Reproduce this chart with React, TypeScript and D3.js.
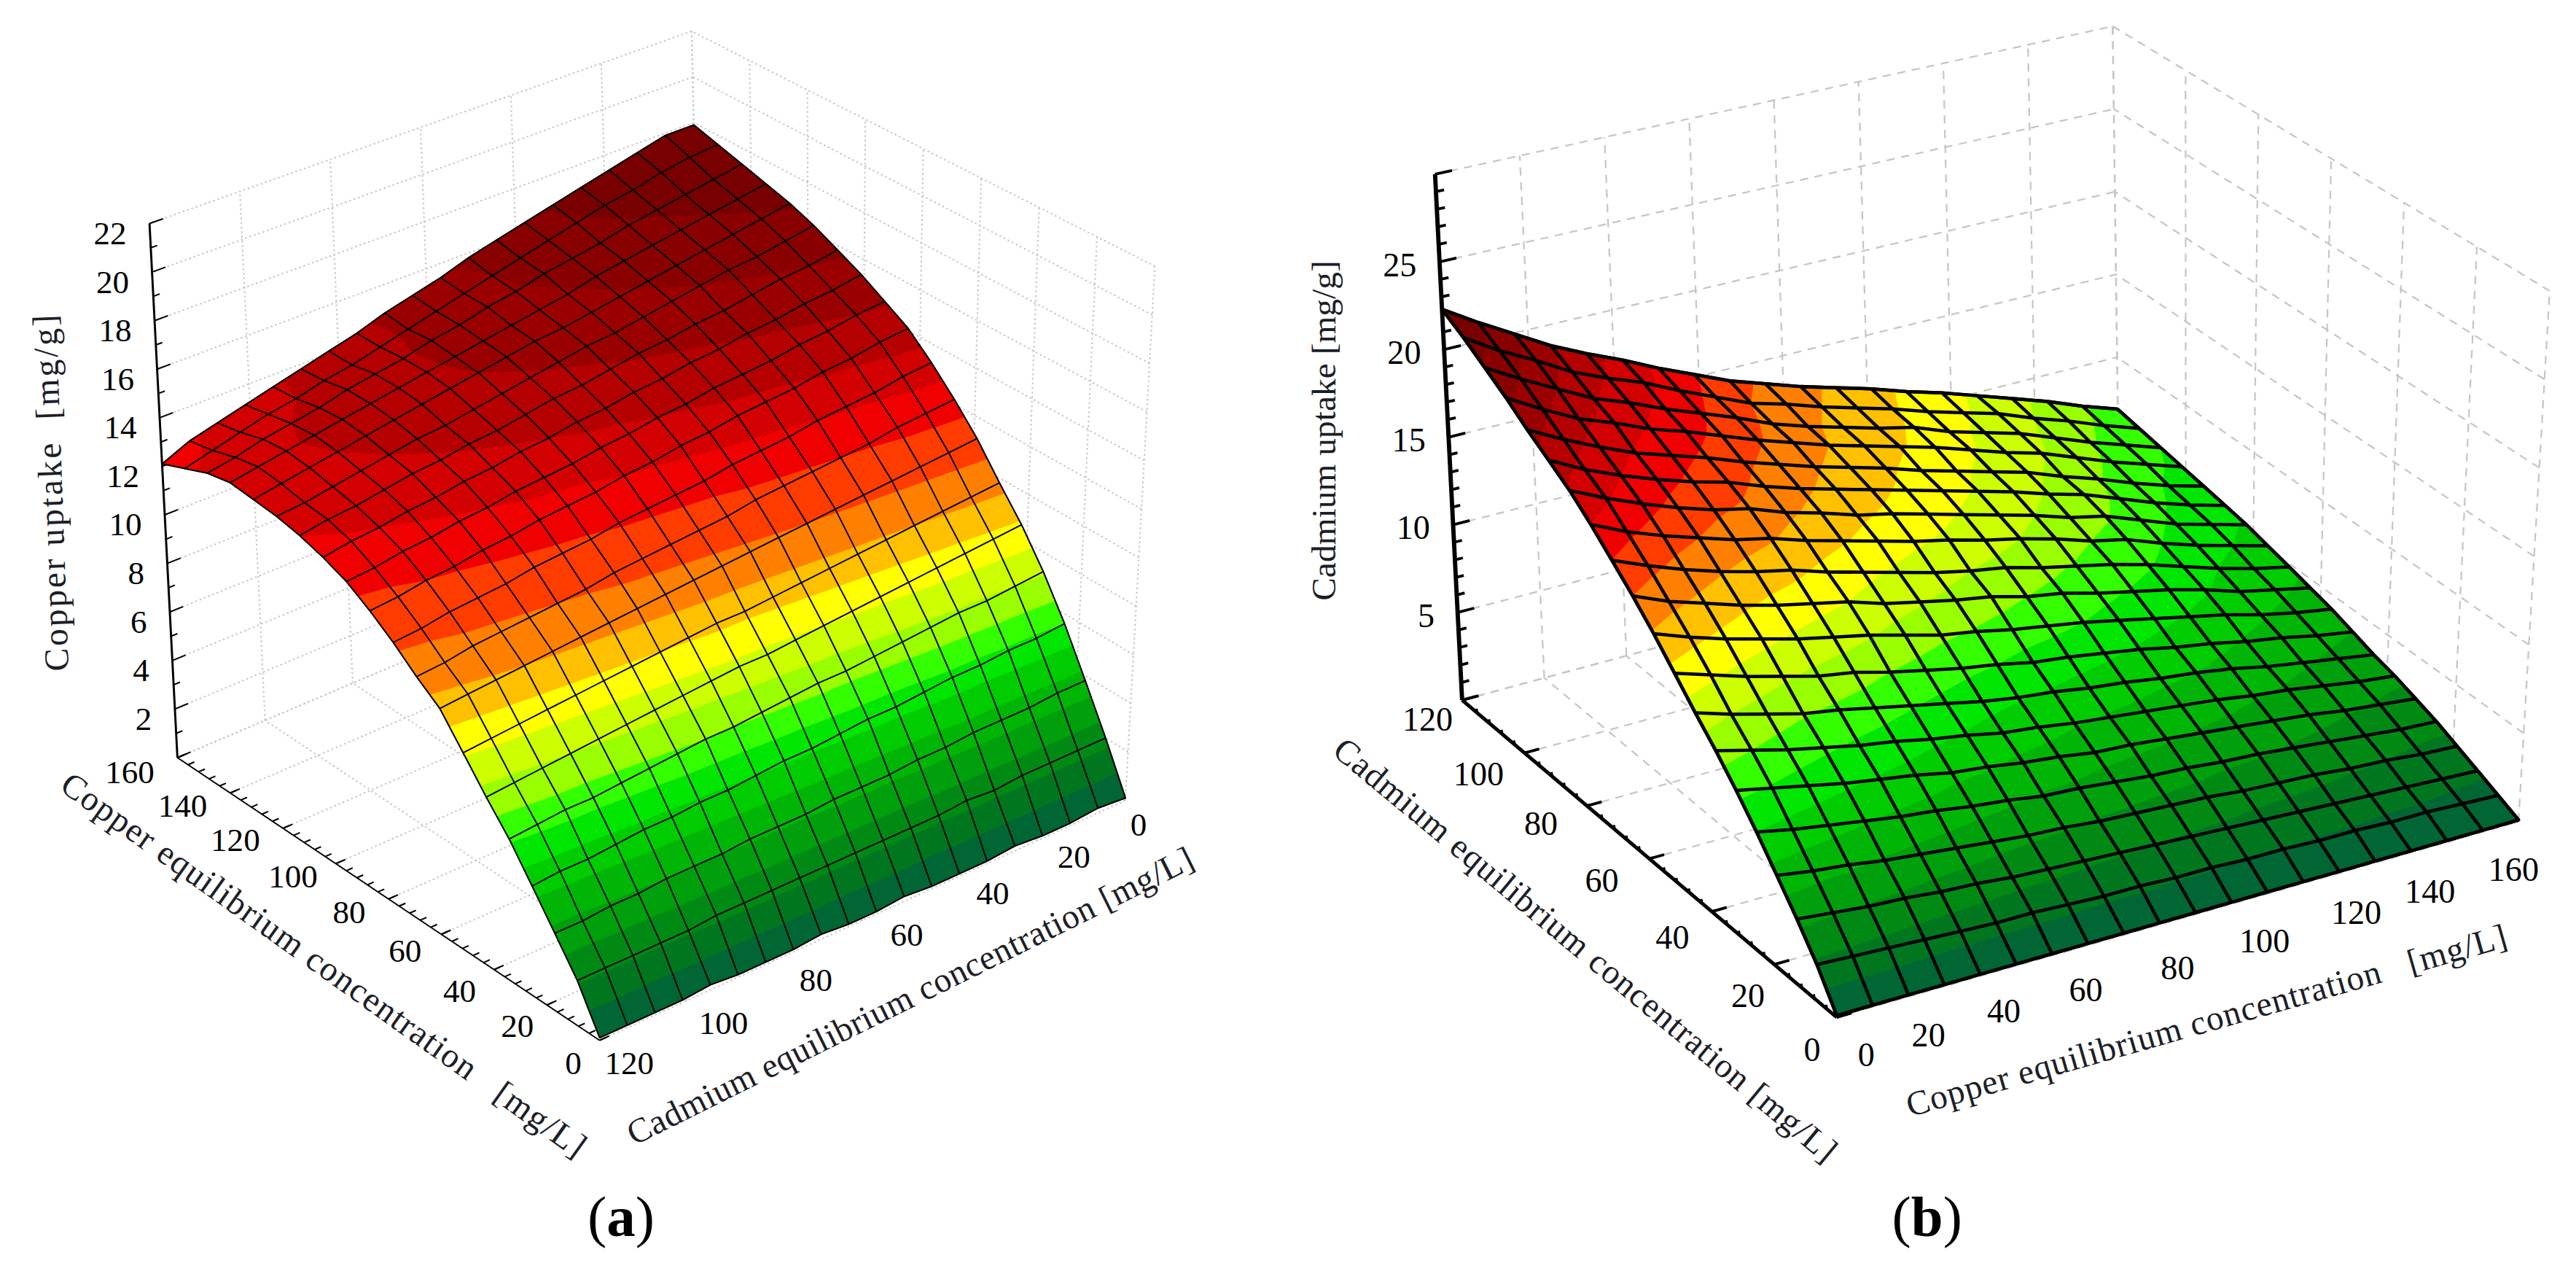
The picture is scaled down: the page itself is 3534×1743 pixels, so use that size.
import React from 'react';
import * as d3 from 'd3';

// everything is laid out in the 1568x773 frame and scaled up to the page
const K = 3534 / 1568;

const copperTicks = [0, 20, 40, 60, 80, 100, 120, 140, 160];
const cadmiumTicks = [0, 20, 40, 60, 80, 100, 120];
const uptakeTicksA = [2, 4, 6, 8, 10, 12, 14, 16, 18, 20, 22];
const uptakeTicksB = [5, 10, 15, 20, 25];

const bandColors = [
  '#006633', '#00771f', '#008a14', '#009f0c', '#00b506', '#00cc00', '#00e600',
  '#33ff00', '#99ff00', '#ccff00', '#ffff00', '#ffc000', '#ff8000', '#ff3c00',
  '#f00000', '#d20000', '#b40000', '#9a0000', '#880000', '#780000',
];
const bandLevelsA = [0.9, 1.7, 2.5, 3.3, 4.1, 4.9, 5.6, 6.3, 7.1, 7.9, 8.7, 9.5, 10.5, 11.7, 12.7, 13.6, 14.6, 15.6, 16.6];
const bandLevelsB = [1.1, 2.2, 3.3, 4.4, 5.5, 6.6, 7.7, 8.8, 9.9, 11, 12.1, 13.2, 14.3, 15.4, 16.5, 17.6, 18.7, 19.8, 20.9];

// panel a: rows go copper 0 -> 160, columns cadmium 0 -> 120
const copperUptake = [
  [0.1, 0.2, 0.1, 0.1, 0.2, 0.1, 0.1, 0.1, 0.2, 0.1, 0.1, 0.2, 0.1, 0.1, 0.1, 0.2, 0.1, 0.1, 0.1, 0.1],
  [2.0, 2.0, 2.0, 2.0, 1.9, 2.0, 1.9, 1.9, 1.9, 1.9, 1.9, 1.9, 1.9, 1.9, 1.9, 1.8, 1.8, 1.8, 1.8, 1.8],
  [3.8, 3.8, 3.7, 3.7, 3.7, 3.6, 3.6, 3.5, 3.5, 3.5, 3.4, 3.4, 3.4, 3.3, 3.3, 3.3, 3.2, 3.2, 3.1, 3.1],
  [5.6, 5.5, 5.5, 5.4, 5.4, 5.3, 5.2, 5.2, 5.1, 5.0, 5.0, 4.9, 4.8, 4.8, 4.7, 4.7, 4.6, 4.5, 4.5, 4.4],
  [7.2, 7.1, 7.0, 7.0, 6.9, 6.8, 6.7, 6.6, 6.6, 6.5, 6.4, 6.3, 6.3, 6.2, 6.1, 6.0, 5.9, 5.9, 5.8, 5.7],
  [8.6, 8.5, 8.4, 8.3, 8.2, 8.1, 8.0, 7.9, 7.8, 7.7, 7.7, 7.6, 7.5, 7.4, 7.3, 7.2, 7.1, 7.0, 6.9, 6.8],
  [9.8, 9.7, 9.6, 9.5, 9.4, 9.3, 9.2, 9.1, 9.0, 8.9, 8.9, 8.8, 8.7, 8.6, 8.5, 8.4, 8.3, 8.2, 8.1, 8.0],
  [11.1, 11.0, 10.9, 10.8, 10.7, 10.6, 10.5, 10.4, 10.3, 10.2, 10.1, 10.0, 9.9, 9.8, 9.7, 9.6, 9.5, 9.4, 9.3, 9.2],
  [12.2, 12.1, 12.0, 11.8, 11.7, 11.6, 11.5, 11.4, 11.2, 11.1, 11.0, 10.9, 10.8, 10.6, 10.5, 10.4, 10.3, 10.2, 10.0, 9.9],
  [13.2, 13.1, 12.9, 12.8, 12.7, 12.5, 12.4, 12.3, 12.1, 12.0, 11.9, 11.8, 11.6, 11.5, 11.4, 11.2, 11.1, 11.0, 10.8, 10.7],
  [14.1, 14.0, 13.8, 13.7, 13.5, 13.4, 13.3, 13.1, 13.0, 12.8, 12.7, 12.5, 12.4, 12.3, 12.1, 12.0, 11.8, 11.7, 11.5, 11.4],
  [14.7, 14.6, 14.4, 14.3, 14.1, 14.0, 13.9, 13.7, 13.6, 13.4, 13.3, 13.1, 13.0, 12.9, 12.7, 12.6, 12.4, 12.3, 12.1, 12.0],
  [15.3, 15.1, 15.0, 14.8, 14.7, 14.5, 14.4, 14.2, 14.1, 13.9, 13.8, 13.6, 13.5, 13.3, 13.2, 13.0, 12.9, 12.7, 12.6, 12.4],
  [15.8, 15.6, 15.5, 15.3, 15.1, 15.0, 14.8, 14.7, 14.5, 14.3, 14.2, 14.0, 13.8, 13.7, 13.5, 13.4, 13.2, 13.0, 12.9, 12.7],
  [16.3, 16.1, 15.9, 15.8, 15.6, 15.4, 15.2, 15.0, 14.9, 14.7, 14.5, 14.3, 14.1, 13.9, 13.8, 13.6, 13.4, 13.2, 13.0, 12.9],
  [16.7, 16.5, 16.3, 16.1, 15.9, 15.7, 15.5, 15.3, 15.1, 15.0, 14.8, 14.6, 14.4, 14.2, 14.0, 13.8, 13.6, 13.4, 13.2, 13.0],
  [17.0, 16.8, 16.6, 16.4, 16.2, 16.0, 15.8, 15.5, 15.3, 15.1, 14.9, 14.7, 14.5, 14.3, 14.1, 13.9, 13.7, 13.5, 13.3, 13.1],
  [17.3, 17.1, 16.9, 16.7, 16.5, 16.2, 16.0, 15.8, 15.5, 15.3, 15.0, 14.8, 14.5, 14.3, 14.1, 13.8, 13.6, 13.4, 13.1, 12.9],
  [17.6, 17.5, 17.3, 17.0, 16.8, 16.5, 16.2, 15.9, 15.6, 15.3, 15.0, 14.7, 14.4, 14.1, 13.9, 13.6, 13.4, 13.1, 12.8, 12.5],
  [17.9, 17.9, 17.6, 17.3, 17.0, 16.7, 16.4, 16.1, 15.8, 15.4, 15.1, 14.8, 14.4, 14.1, 13.8, 13.5, 13.2, 12.9, 12.6, 12.1],
];

// panel b: rows go copper 0 -> 160, columns cadmium 0 -> 120
const cadmiumUptake = [
  [0.1, 2.0, 3.6, 5.1, 6.6, 8.0, 9.3, 10.5, 11.8, 13.1, 14.3, 15.4, 16.5, 17.5, 18.3, 19.1, 20.0, 20.8, 21.6, 22.3],
  [0.1, 1.9, 3.4, 4.8, 6.2, 7.6, 8.8, 9.9, 11.2, 12.4, 13.5, 14.6, 15.6, 16.6, 17.3, 18.1, 18.9, 19.7, 20.4, 21.1],
  [0.1, 1.8, 3.2, 4.6, 5.9, 7.2, 8.3, 9.4, 10.6, 11.8, 12.9, 13.9, 14.9, 15.8, 16.5, 17.2, 17.9, 18.7, 19.4, 20.0],
  [0.1, 1.7, 3.1, 4.3, 5.6, 6.8, 7.9, 8.9, 10.1, 11.3, 12.3, 13.3, 14.3, 15.1, 15.8, 16.4, 17.2, 17.7, 18.3, 18.9],
  [0.1, 1.6, 2.9, 4.1, 5.3, 6.5, 7.5, 8.6, 9.6, 10.8, 11.8, 12.8, 13.7, 14.5, 15.2, 15.8, 16.4, 17.0, 17.5, 18.0],
  [0.1, 1.5, 2.8, 3.9, 5.1, 6.2, 7.2, 8.2, 9.3, 10.4, 11.4, 12.4, 13.3, 14.1, 14.7, 15.2, 15.8, 16.2, 16.8, 17.2],
  [0.1, 1.5, 2.6, 3.7, 4.8, 5.8, 6.8, 7.8, 8.8, 10.0, 11.0, 11.8, 12.7, 13.4, 14.0, 14.5, 15.1, 15.5, 15.9, 16.3],
  [0.1, 1.4, 2.5, 3.5, 4.6, 5.6, 6.5, 7.4, 8.4, 9.5, 10.4, 11.3, 12.2, 12.9, 13.4, 13.9, 14.4, 14.8, 15.1, 15.5],
  [0.1, 1.3, 2.4, 3.4, 4.3, 5.3, 6.1, 7.0, 8.0, 9.0, 10.0, 10.8, 11.7, 12.3, 12.9, 13.3, 13.8, 14.0, 14.3, 14.7],
  [0.1, 1.3, 2.3, 3.2, 4.2, 5.1, 5.9, 6.7, 7.7, 8.7, 9.6, 10.3, 11.2, 11.9, 12.4, 12.8, 13.2, 13.4, 13.8, 14.1],
  [0.1, 1.2, 2.2, 3.1, 4.0, 4.8, 5.6, 6.5, 7.3, 8.3, 9.3, 9.9, 10.8, 11.4, 11.9, 12.3, 12.7, 12.9, 13.2, 13.5],
  [0.1, 1.2, 2.1, 3.0, 3.8, 4.7, 5.4, 6.2, 7.1, 8.0, 8.8, 9.6, 10.3, 10.9, 11.4, 11.7, 12.2, 12.4, 12.7, 13.0],
  [0.1, 1.1, 2.0, 2.9, 3.7, 4.5, 5.2, 6.0, 6.8, 7.7, 8.5, 9.1, 9.9, 10.4, 10.9, 11.2, 11.7, 12.0, 12.2, 12.5],
  [0.1, 1.1, 1.9, 2.7, 3.5, 4.3, 5.0, 5.7, 6.5, 7.3, 8.0, 8.7, 9.4, 9.9, 10.4, 10.7, 11.1, 11.3, 11.6, 11.9],
  [0.1, 1.0, 1.8, 2.6, 3.4, 4.1, 4.8, 5.5, 6.1, 6.9, 7.6, 8.3, 8.8, 9.3, 9.8, 10.2, 10.5, 10.8, 11.1, 11.4],
  [0.1, 1.0, 1.7, 2.5, 3.2, 3.9, 4.5, 5.2, 5.8, 6.5, 7.2, 7.8, 8.4, 8.9, 9.3, 9.5, 10.0, 10.3, 10.6, 10.8],
  [0.1, 0.9, 1.6, 2.3, 3.0, 3.7, 4.3, 4.8, 5.4, 6.1, 6.7, 7.2, 7.7, 8.2, 8.6, 8.9, 9.3, 9.6, 9.9, 10.2],
  [0.1, 0.9, 1.5, 2.2, 2.8, 3.4, 4.0, 4.5, 5.1, 5.6, 6.1, 6.6, 7.1, 7.5, 7.9, 8.2, 8.6, 8.9, 9.3, 9.6],
  [0.1, 0.8, 1.4, 2.0, 2.6, 3.2, 3.7, 4.2, 4.7, 5.2, 5.7, 6.1, 6.6, 7.0, 7.3, 7.6, 8.0, 8.3, 8.6, 8.9],
  [0.1, 0.7, 1.3, 1.9, 2.5, 3.0, 3.5, 3.9, 4.4, 4.9, 5.3, 5.7, 6.1, 6.5, 6.8, 7.1, 7.4, 7.7, 8.0, 8.3],
];

const FONT = '"Liberation Serif", serif';

// corners are [copper frac, cadmium frac]: c00, c10, c01, c11
const panelA = {
  values: copperUptake,
  levels: bandLevelsA,
  zMax: 22,
  zLines: [0, ...uptakeTicksA],
  zLabels: uptakeTicksA,
  zMinorStep: 1,
  floor: [[685, 487], [428, 325], [365, 633], [108, 461]],
  top: [[703, 162], [421, 19], [365, 298], [91, 136]],
  copperWallCd: 0,
  axisAlong: 'copper',
  meshWidth: 0.85,
  outlineWidth: 0.7,
  axisWidth: 1.3,
  floorAxisWidth: 0.8,
  tickWidth: 0.9,
  floorMinorLen: 0.012,
  floorMajorLen: 0.018,
  gridDash: '1.1 1.7',
  gridWidth: 0.9,
  copperNudge: [[-16, 14], [-18, 13], [-21, 13], [-22, 10], [-24, 8], [-26, 8], [-29, 7], [-29, 8], [-29, 9]],
  cadmiumNudge: [[8, 15], [22, 10], [26, 8], [27, 9], [25, 12], [22, 14], [18, 14]],
  zLabelDx: -14,
  zLabelDy: 6,
  labelSize: 20,
  zTitle: { text: 'Copper uptake  [mg/g]', x: 31, y: 300, rot: -92, len: 217 },
  copperTitle: { text: 'Copper equilibrium concentration   [mg/L]', x: 197, y: 587, rot: 35.5, len: 387 },
  cadmiumTitle: { text: 'Cadmium equilibrium concentration [mg/L]', x: 554, y: 606, rot: -26.4, len: 382 },
  caption: { letter: 'a', x: 378 },
};

const panelB = {
  values: cadmiumUptake,
  levels: bandLevelsB,
  zMax: 30,
  zLines: [0, ...uptakeTicksB, 30],
  zLabels: uptakeTicksB,
  zMinorStep: 1,
  floor: [[1118, 619], [1533, 500], [890, 426], [1290, 318]],
  // the surface sits a little lower at the hidden back corner than the wall grid suggests
  surfaceFloor: [[1118, 619], [1533, 500], [890, 426], [1290, 338]],
  top: [[1118, 289], [1552, 177], [873.5, 106], [1286, 16]],
  copperWallCd: 120,
  axisAlong: 'cadmium',
  meshWidth: 2,
  outlineWidth: 2,
  axisWidth: 2.6,
  floorAxisWidth: 2.2,
  tickWidth: 1.7,
  floorMinorLen: 0.005,
  floorMajorLen: 0.022,
  gridDash: '5 4',
  gridWidth: 1,
  copperNudge: [[18, 23], [4, 26], [-2, 26], [-4, 28], [0, 29.5], [1, 28], [5, 25.6], [-2, 27.7], [-3, 29]],
  cadmiumNudge: [[-15, 20], [-16, 19], [-24, 15.6], [-29, 13.5], [-28, 11], [-28, 13], [-21, 12]],
  zLabelDx: -14,
  zLabelDy: 2,
  labelSize: 20.5,
  zTitle: { text: 'Cadmium uptake [mg/g]', x: 806, y: 262, len: 207 },
  copperTitle: { text: 'Copper equilibrium concentration   [mg/L]', x: 1343, y: 621, rot: -15.9, len: 379 },
  cadmiumTitle: { text: 'Cadmium equilibrium concentration [mg/L]', x: 965, y: 578, rot: 39.7, len: 391 },
  caption: { letter: 'b', x: 1173 },
};

function Surface3D({ cfg }: { cfg: any }) {
  const { floor, top, values } = cfg;
  const surfaceFloor = cfg.surfaceFloor ?? floor;
  const nNodes = values.length;
  const copperScale = d3.scaleLinear([0, 160], [0, 1]);
  const cadmiumScale = d3.scaleLinear([0, 120], [0, 1]);
  const zScale = d3.scaleLinear([0, cfg.zMax], [0, 1]);
  const nodeScale = d3.scaleLinear([0, nNodes - 1], [0, 1]);
  const lerp = (a: number, b: number, t: number) => a + (b - a) * t;

  const projectWith = (base: number[][], u: number, v: number, w: number): [number, number] => {
    const at = (c: number[][], k: number) =>
      lerp(lerp(c[0][k], c[1][k], u), lerp(c[2][k], c[3][k], u), v);
    return [lerp(at(base, 0), at(top, 0), w), lerp(at(base, 1), at(top, 1), w)];
  };
  const project = (u: number, v: number, w: number) => projectWith(floor, u, v, w);
  const surfacePoint = (row: number, col: number) =>
    projectWith(surfaceFloor, nodeScale(row), nodeScale(col), zScale(values[row][col]));

  const zAt = (row: number, col: number) => {
    const r0 = Math.min(Math.floor(row), nNodes - 2);
    const c0 = Math.min(Math.floor(col), nNodes - 2);
    const tr = row - r0;
    const tc = col - c0;
    return lerp(
      lerp(values[r0][c0], values[r0][c0 + 1], tc),
      lerp(values[r0 + 1][c0], values[r0 + 1][c0 + 1], tc),
      tr,
    );
  };

  // d3.contours places value i at coordinate i + 0.5
  const clampNode = (x: number) => Math.max(0, Math.min(nNodes - 1, x - 0.5));
  const contourPath = d3.geoPath(
    d3.geoTransform({
      point(x: number, y: number) {
        const col = clampNode(x);
        const row = clampNode(y);
        const p = projectWith(surfaceFloor, nodeScale(row), nodeScale(col), zScale(zAt(row, col)));
        (this as any).stream.point(p[0], p[1]);
      },
    }),
  );
  const bands = d3.contours().size([nNodes, nNodes]).thresholds(cfg.levels)(values.flat());

  const line = d3.line();
  const nodeIdx = d3.range(nNodes);
  const rowLines = nodeIdx.map((r) => line(nodeIdx.map((c) => surfacePoint(r, c))));
  const colLines = nodeIdx.map((c) => line(nodeIdx.map((r) => surfacePoint(r, c))));
  const outline =
    line([
      ...nodeIdx.map((c) => surfacePoint(0, c)),
      ...nodeIdx.map((r) => surfacePoint(r, nNodes - 1)),
      ...nodeIdx.map((c) => surfacePoint(nNodes - 1, nNodes - 1 - c)),
      ...nodeIdx.map((r) => surfacePoint(nNodes - 1 - r, 0)),
    ]) + 'Z';

  // back walls and floor
  const wallCd = cadmiumScale(cfg.copperWallCd);
  const gridSegs: [number, number][][] = [];
  copperTicks.forEach((t) => {
    const u = copperScale(t);
    gridSegs.push([project(u, wallCd, 0), project(u, wallCd, 1)]);
    gridSegs.push([project(u, 0, 0), project(u, 1, 0)]);
  });
  cadmiumTicks.forEach((t) => {
    const v = cadmiumScale(t);
    gridSegs.push([project(1, v, 0), project(1, v, 1)]);
    gridSegs.push([project(0, v, 0), project(1, v, 0)]);
  });
  cfg.zLines.forEach((t: number) => {
    const w = zScale(t);
    gridSegs.push([project(1, 0, w), project(1, 1, w)]);
    gridSegs.push([project(0, wallCd, w), project(1, wallCd, w)]);
  });

  // left corner of the box, where the drawn axes meet
  const leftV = 1;
  const leftU = cfg.axisAlong === 'copper' ? 1 : 0;
  const wallDir =
    cfg.axisAlong === 'copper'
      ? (w: number, d: number) => project(1, 1 - d, w)
      : (w: number, d: number) => project(d, 1, w);
  const zMinor = d3.range(0, cfg.zMax + 0.01, cfg.zMinorStep);
  const floorAxis =
    cfg.axisAlong === 'copper'
      ? (t: number, d: number) => project(copperScale(t), 1 - d, 0)
      : (t: number, d: number) => project(d, cadmiumScale(t), 0);
  const floorMajor = cfg.axisAlong === 'copper' ? copperTicks : cadmiumTicks;
  const floorMax = cfg.axisAlong === 'copper' ? 160 : 120;
  const floorMinor = d3.range(0, floorMax + 0.01, 4);
  const floorEnds = [floorAxis(0, 0), floorAxis(floorMax, 0)];

  const { caption } = cfg;
  const title = (t: any, key: string) => (
    <text
      key={key}
      transform={`translate(${t.x},${t.y}) rotate(${t.rot ?? -90})`}
      textAnchor="middle"
      dy="0.33em"
      fontSize={21}
      textLength={t.len}
      fill="#1c2026"
      xmlSpace="preserve"
    >
      {t.text}
    </text>
  );

  return (
    <g fontFamily={FONT}>
      <g stroke="#c6c6c6" strokeWidth={cfg.gridWidth} strokeDasharray={cfg.gridDash} fill="none">
        {gridSegs.map((s, i) => (
          <path key={i} d={line(s) as string} />
        ))}
      </g>

      <g stroke="#000" fill="none">
        <path d={line([project(leftU, leftV, 0), project(leftU, leftV, 1)]) as string} strokeWidth={cfg.axisWidth} />
        <path d={line(floorEnds) as string} strokeWidth={cfg.floorAxisWidth} />
        {zMinor.map((t: number) => {
          const major = t % (cfg.zLabels[1] - cfg.zLabels[0]) === 0;
          const w = zScale(t);
          return (
            <path
              key={`z${t}`}
              d={line([wallDir(w, 0), wallDir(w, major ? 0.025 : 0.012)]) as string}
              strokeWidth={cfg.tickWidth}
            />
          );
        })}
        {floorMinor.map((t: number) => (
          <path
            key={`fm${t}`}
            d={line([floorAxis(t, 0), floorAxis(t, cfg.floorMinorLen)]) as string}
            strokeWidth={cfg.tickWidth}
          />
        ))}
        {floorMajor.map((t: number) => (
          <path
            key={`fM${t}`}
            d={line([floorAxis(t, 0), floorAxis(t, cfg.floorMajorLen)]) as string}
            strokeWidth={cfg.tickWidth}
          />
        ))}
      </g>

      <path d={outline} fill={bandColors[0]} />
      {bands.map((b: any, i: number) => (
        <path key={i} d={contourPath(b) as string} fill={bandColors[i + 1]} />
      ))}

      <g stroke="#000" strokeWidth={cfg.meshWidth} fill="none" strokeLinejoin="round">
        {rowLines.map((d, i) => (
          <path key={`r${i}`} d={d as string} />
        ))}
        {colLines.map((d, i) => (
          <path key={`c${i}`} d={d as string} />
        ))}
      </g>
      <path d={outline} fill="none" stroke="#000" strokeWidth={cfg.outlineWidth} strokeLinejoin="round" />

      <g fontSize={cfg.labelSize} fill="#000">
        {cfg.zLabels.map((t: number) => {
          const p = project(leftU, leftV, zScale(t));
          return (
            <text key={t} x={p[0] + cfg.zLabelDx} y={p[1] + cfg.zLabelDy} dy="0.33em" textAnchor="end">
              {t}
            </text>
          );
        })}
        {copperTicks.map((t, i) => {
          const side = cfg.axisAlong === 'copper' ? 1 : 0;
          const p = project(copperScale(t), side, 0);
          const n = cfg.copperNudge[i];
          return (
            <text key={`cu${t}`} x={p[0] + n[0]} y={p[1] + n[1]} dy="0.33em" textAnchor="middle">
              {t}
            </text>
          );
        })}
        {cadmiumTicks.map((t, i) => {
          const p = project(0, cadmiumScale(t), 0);
          const n = cfg.cadmiumNudge[i];
          return (
            <text key={`cd${t}`} x={p[0] + n[0]} y={p[1] + n[1]} dy="0.33em" textAnchor="middle">
              {t}
            </text>
          );
        })}
      </g>

      {title(cfg.zTitle, 'zt')}
      {title(cfg.copperTitle, 'cut')}
      {title(cfg.cadmiumTitle, 'cdt')}

      <text x={caption.x} y={752} fontSize={35} textAnchor="middle" fill="#000">
        (<tspan fontWeight="bold">{caption.letter}</tspan>)
      </text>
    </g>
  );
}

export default function App() {
  return (
    <svg
      width={3534}
      height={1743}
      viewBox="0 0 3534 1743"
      style={{ position: 'absolute', left: 0, top: 0, display: 'block', background: '#fff' }}
    >
      <g transform={`scale(${K})`}>
        <Surface3D cfg={panelA} />
        <Surface3D cfg={panelB} />
      </g>
    </svg>
  );
}
